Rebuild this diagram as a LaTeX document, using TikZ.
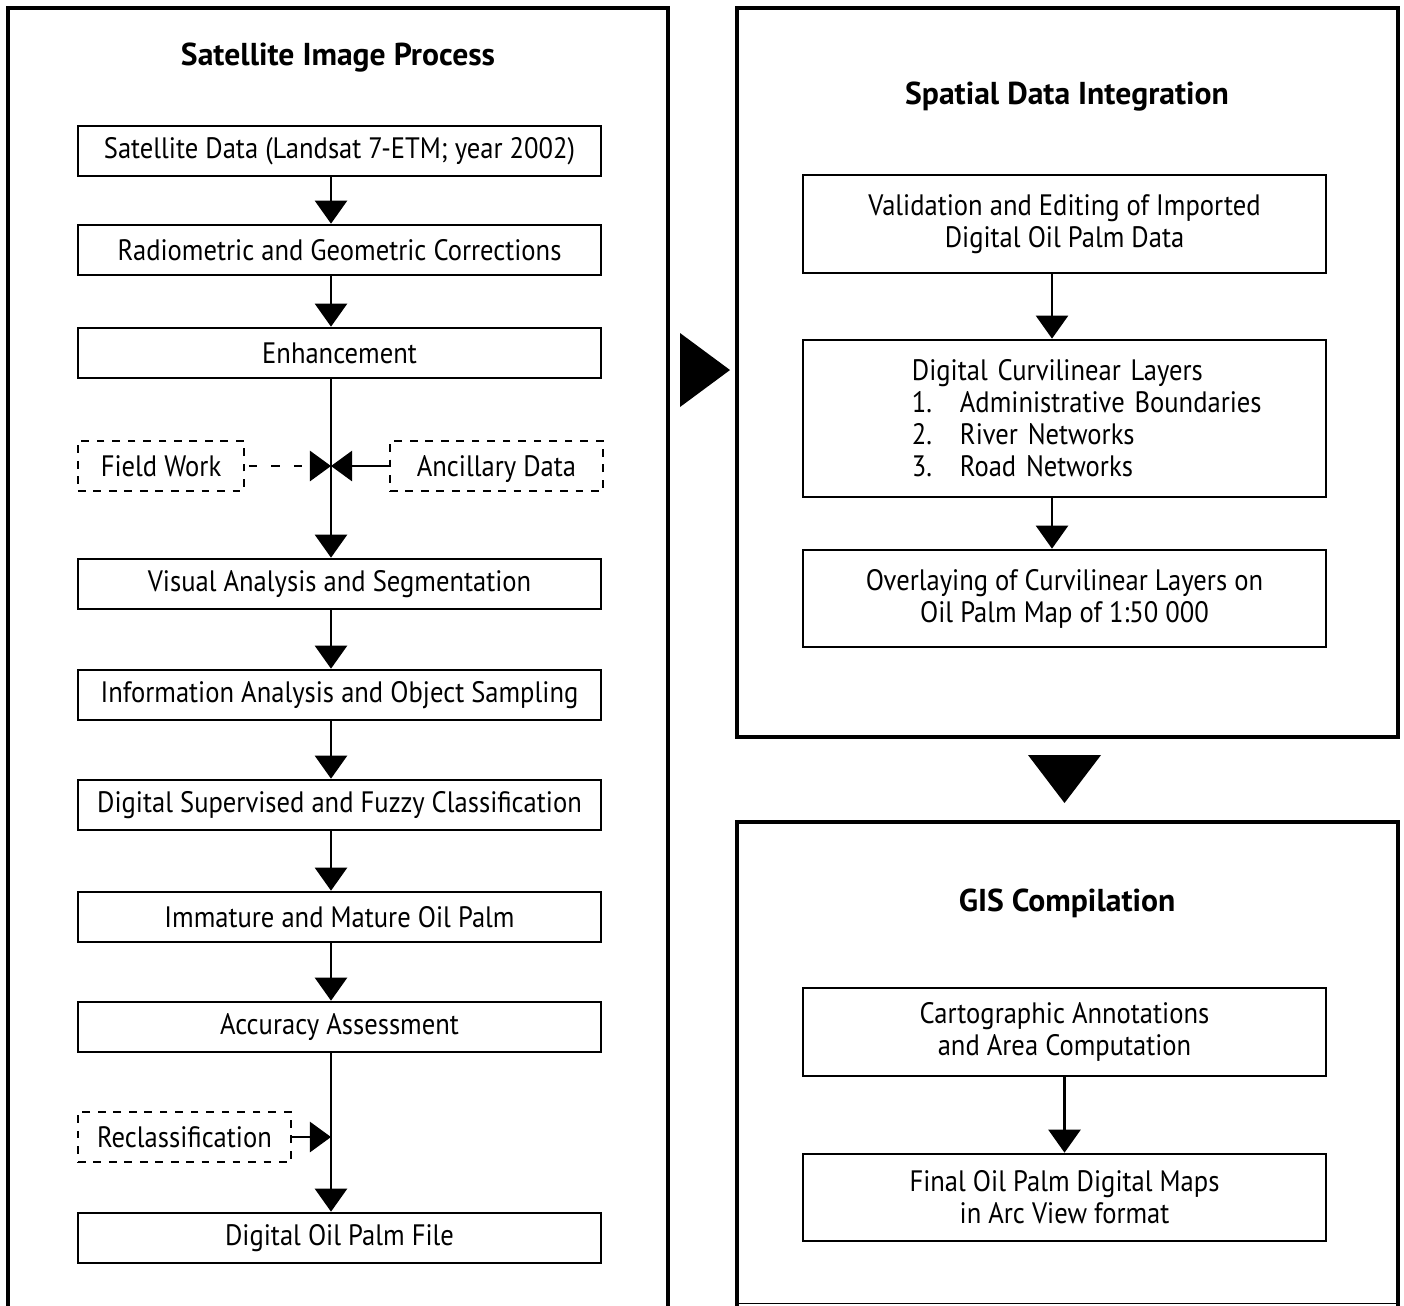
\documentclass[tikz,border=0pt]{standalone}
\usepackage{fontspec}
\setmainfont{PT Sans}[FakeStretch=0.9]
\newfontfamily\titlefont{PT Sans}
\usetikzlibrary{arrows.meta,positioning}

\begin{document}
\begin{tikzpicture}[x=0.01cm,y=-0.01cm,
  font=\fontsize{8.4}{9.1}\selectfont,
  panel/.style={line width=1.4pt},
  paneltitle/.style={font=\fontsize{9}{10}\titlefont\bfseries},
  procbox/.style={draw,line width=0.75pt,minimum width=5.23cm,minimum height=0.5cm,align=center,inner sep=2pt},
  optbox/.style={draw,line width=0.7pt,dash pattern=on 2.2pt off 2.2pt,minimum height=0.5cm,inner sep=2pt,
    text height=1.6ex,text depth=0.45ex},
  flow/.style={line width=0.7pt,-{Triangle[width=3.2mm,length=2.3mm]}},
  side/.style={line width=0.7pt,-{Triangle[width=3mm,length=2.1mm]}}]
  \useasboundingbox (0,0) rectangle (1404,1305);
  % panels
  \draw[panel] (8,1310) -- (8,8) -- (668,8) -- (668,1310);
  \draw[panel] (737,8) rectangle (1398,737);
  \draw[panel] (737,1310) -- (737,822) -- (1398,822) -- (1398,1310);
  \draw[line width=0.5pt] (737,1303.5) -- (1398,1303.5);
  \node[paneltitle] (tleft) at (338,58) {Satellite Image Process};
  \node[paneltitle] (tmid) at (1067,97) {Spatial Data Integration};
  \node[paneltitle] (tbot) at (1067,903) {GIS Compilation};

  % satellite image process
  \coordinate (ax) at (331,0);
  \node[procbox] (sat) at (339.5,151) {Satellite Data (Landsat 7-ETM; year 2002)};
  \node[procbox] (rad) at (339.5,250) {Radiometric and Geometric Corrections};
  \node[procbox] (enh) at (339.5,353) {Enhancement};
  \node[optbox,minimum width=1.66cm] (field) at (161,466) {Field Work};
  \node[optbox,minimum width=2.13cm] (anc) at (496.5,466) {Ancillary Data};
  \node[procbox] (vis) at (339.5,584) {Visual Analysis and Segmentation};
  \node[procbox] (inf) at (339.5,695) {Information Analysis and Object Sampling};
  \node[procbox] (dsc) at (339.5,805) {Digital Supervised and Fuzzy Classification};
  \node[procbox] (imm) at (339.5,917) {Immature and Mature Oil Palm};
  \node[procbox] (acc) at (339.5,1027) {Accuracy Assessment};
  \node[optbox,minimum width=2.13cm] (recl) at (184.5,1137) {Reclassification};
  \node[procbox] (dop) at (339.5,1238) {Digital Oil Palm File};
  \coordinate (jn) at (331,466);
  \coordinate (jr) at (331,1137);

  \draw[flow] (sat.south -| ax) -- (rad.north -| ax);
  \draw[flow] (rad.south -| ax) -- (enh.north -| ax);
  \draw[flow] (enh.south -| ax) -- (vis.north -| ax);
  \draw[side,dash pattern=on 2.4pt off 4pt,dash phase=-1pt] (field) -- (jn);
  \draw[side] (anc) -- (jn);
  \draw[flow] (vis.south -| ax) -- (inf.north -| ax);
  \draw[flow] (inf.south -| ax) -- (dsc.north -| ax);
  \draw[flow] (dsc.south -| ax) -- (imm.north -| ax);
  \draw[flow] (imm.south -| ax) -- (acc.north -| ax);
  \draw[flow] (acc.south -| ax) -- (dop.north -| ax);
  \draw[side] (recl) -- (jr);

  % spatial data integration
  \coordinate (bx) at (1052,0);
  \node[procbox,minimum height=0.98cm] (val) at (1064.5,224)
    {Validation and Editing of Imported\\Digital Oil Palm Data};
  \node[procbox,minimum height=1.57cm,text width=5.23cm,align=left,inner xsep=0pt] (dcl) at (1064.5,418.5)
    {\hspace*{1.09cm}Digital Curvilinear Layers\\
     \hspace*{1.09cm}\makebox[0.48cm][l]{1.}Administrative Boundaries\\
     \hspace*{1.09cm}\makebox[0.48cm][l]{2.}River Networks\\
     \hspace*{1.09cm}\makebox[0.48cm][l]{3.}Road Networks};
  \node[procbox,minimum height=0.97cm] (ovl) at (1064.5,598.5)
    {Overlaying of Curvilinear Layers on\\Oil Palm Map of 1:50 000};
  \draw[flow] (val.south -| bx) -- (dcl.north -| bx);
  \draw[flow] (dcl.south -| bx) -- (ovl.north -| bx);

  % gis compilation
  \node[procbox,minimum height=0.88cm] (cart) at (1064.5,1032)
    {Cartographic Annotations\\and Area Computation};
  \node[procbox,minimum height=0.87cm] (fin) at (1064.5,1197.5)
    {Final Oil Palm Digital Maps\\in Arc View format};
  \draw[flow] (cart) -- (fin);

  % links between panels
  \fill (680,333) -- (730,370) -- (680,407) -- cycle;
  \fill (1028,755) -- (1101,755) -- (1064.5,803) -- cycle;
\end{tikzpicture}
\end{document}
